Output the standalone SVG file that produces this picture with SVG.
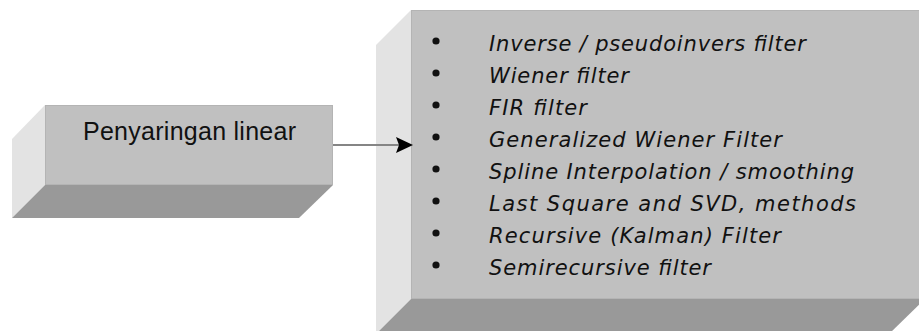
<svg xmlns="http://www.w3.org/2000/svg" width="919" height="331" viewBox="0 0 919 331">
  <style>
    .front { fill: #C0C0C0; stroke: #B4B4B4; stroke-width: 1; }
    .side { fill: #E3E3E3; }
    .base { fill: #999999; }
    .label { font-family: "Liberation Sans", Arial, sans-serif; fill: #111111; }
    .item { font-family: "DejaVu Sans", "Liberation Sans", sans-serif; font-style: italic; font-size: 21px; fill: #111111; }
    .bullet { fill: #111111; }
    .link { stroke: #858585; stroke-width: 2; fill: none; }
  </style>
  <defs>
    <marker id="arrowhead" markerUnits="userSpaceOnUse" markerWidth="17" markerHeight="16" refX="7" refY="8" orient="auto">
      <path d="M0,0 L17,8 L0,16 L3,8 z" fill="#000000"/>
    </marker>
  </defs>

  <rect width="919" height="331" fill="#FFFFFF"/>

  <!-- source block: beveled box -->
  <g id="node-linear">
    <polygon class="side" points="45,105 45,185 12,218 12,139"/>
    <polygon class="base" points="45,185 333,185 299,218 12,218"/>
    <rect class="front" x="45.5" y="105.5" width="287" height="79"/>
    <text class="label" x="83" y="140" font-size="25" textLength="213" lengthAdjust="spacing">Penyaringan linear</text>
  </g>

  <!-- method list block: beveled box -->
  <g id="node-methods">
    <polygon class="side" points="411,10 411,299 376,334 376,45"/>
    <polygon class="base" points="411,299 925,299 889,334 376,334"/>
    <rect class="front" x="411.5" y="10.5" width="515" height="288"/>
    <g class="bullets">
      <circle class="bullet" cx="436" cy="41" r="3.6"/>
      <circle class="bullet" cx="436" cy="73" r="3.6"/>
      <circle class="bullet" cx="436" cy="105" r="3.6"/>
      <circle class="bullet" cx="436" cy="137" r="3.6"/>
      <circle class="bullet" cx="436" cy="169" r="3.6"/>
      <circle class="bullet" cx="436" cy="201" r="3.6"/>
      <circle class="bullet" cx="436" cy="233" r="3.6"/>
      <circle class="bullet" cx="436" cy="265" r="3.6"/>
    </g>
    <text class="item" x="489" y="51" textLength="317" lengthAdjust="spacing">Inverse / pseudoinvers filter</text>
    <text class="item" x="489" y="83" textLength="140" lengthAdjust="spacing">Wiener filter</text>
    <text class="item" x="489" y="115" textLength="98" lengthAdjust="spacing">FIR filter</text>
    <text class="item" x="489" y="147" textLength="293" lengthAdjust="spacing">Generalized Wiener Filter</text>
    <text class="item" x="489" y="179" textLength="365" lengthAdjust="spacing">Spline Interpolation / smoothing</text>
    <text class="item" x="489" y="211" textLength="367" lengthAdjust="spacing">Last Square and SVD, methods</text>
    <text class="item" x="489" y="243" textLength="292" lengthAdjust="spacing">Recursive (Kalman) Filter</text>
    <text class="item" x="489" y="275" textLength="222" lengthAdjust="spacing">Semirecursive filter</text>
  </g>

  <!-- connector -->
  <g id="connectors">
    <line class="link" x1="333" y1="145" x2="403" y2="145" marker-end="url(#arrowhead)"/>
  </g>
</svg>
